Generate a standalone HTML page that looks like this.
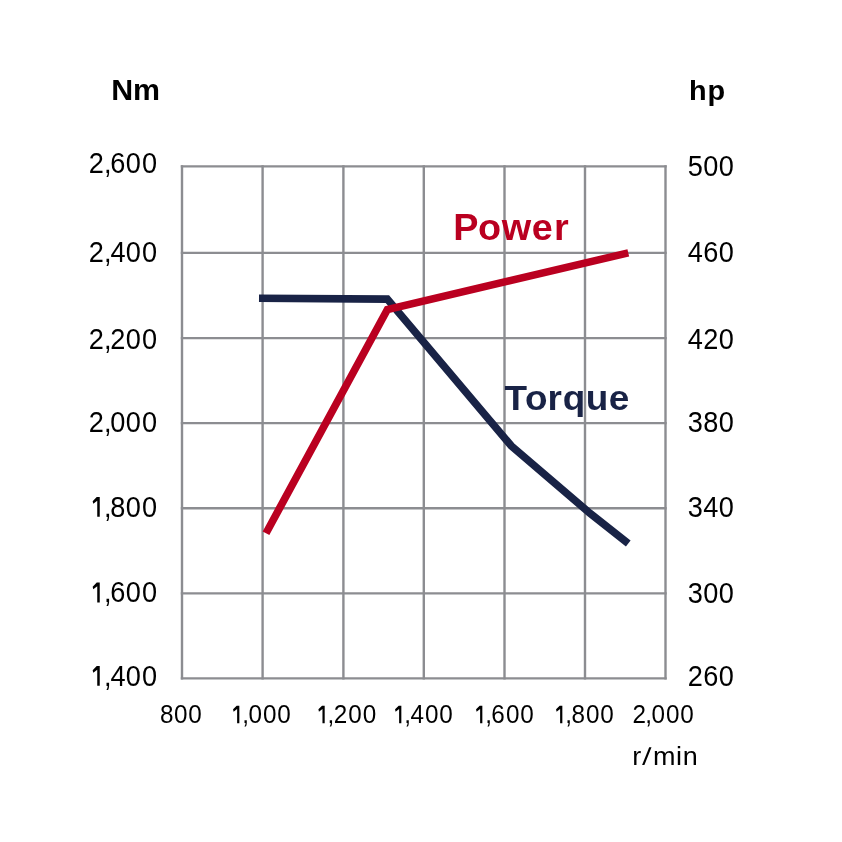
<!DOCTYPE html>
<html><head><meta charset="utf-8">
<style>
html,body{margin:0;padding:0;background:#fff;width:842px;height:842px;overflow:hidden}
svg{display:block;will-change:transform}
text{font-family:"Liberation Sans",sans-serif;font-kerning:none}
</style></head><body>
<svg width="842" height="842" viewBox="0 0 842 842">
<rect width="842" height="842" fill="#fff"/>
<g stroke="#8c8d91" stroke-width="2.4" fill="none">
<line x1="182.0" y1="165.20000000000002" x2="182.0" y2="679.6"/>
<line x1="262.6" y1="165.20000000000002" x2="262.6" y2="679.6"/>
<line x1="343.4" y1="165.20000000000002" x2="343.4" y2="679.6"/>
<line x1="423.8" y1="165.20000000000002" x2="423.8" y2="679.6"/>
<line x1="504.5" y1="165.20000000000002" x2="504.5" y2="679.6"/>
<line x1="585.0" y1="165.20000000000002" x2="585.0" y2="679.6"/>
<line x1="665.5" y1="165.20000000000002" x2="665.5" y2="679.6"/>
<line x1="180.8" y1="166.4" x2="666.7" y2="166.4"/>
<line x1="180.8" y1="252.9" x2="666.7" y2="252.9"/>
<line x1="180.8" y1="338.1" x2="666.7" y2="338.1"/>
<line x1="180.8" y1="423.1" x2="666.7" y2="423.1"/>
<line x1="180.8" y1="508.3" x2="666.7" y2="508.3"/>
<line x1="180.8" y1="593.4" x2="666.7" y2="593.4"/>
<line x1="180.8" y1="678.4" x2="666.7" y2="678.4"/>
</g>
<g fill="none" stroke-width="7.6" stroke-linejoin="miter" stroke-linecap="butt">
<polyline points="259.0,298.3 387.3,299.1 511.2,445.8 590,513.3 628.25,543.4" stroke="#192346"/>
<polyline points="266.0,533.2 387.4,309.5 628.3,252.9" stroke="#ba0020"/>
</g>
<text transform="translate(0 100.00) scale(1.0500 1)" x="105.86 126.57" y="0" font-size="28.90" font-weight="bold" fill="#000000">Nm</text>
<text transform="translate(0 99.90) scale(1.0200 1)" x="675.46 693.65" y="0" font-size="28.30" font-weight="bold" fill="#000000">hp</text>
<text transform="translate(0 173.29) scale(0.9300 1)" x="95.32 111.70 118.55 135.11 152.58" y="0" font-size="29.20" font-weight="normal" fill="#000000">2,600</text>
<text transform="translate(0 262.05) scale(0.9300 1)" x="95.32 111.70 118.75 135.11 152.58" y="0" font-size="29.20" font-weight="normal" fill="#000000">2,400</text>
<text transform="translate(0 348.80) scale(0.9300 1)" x="95.32 111.70 118.65 135.11 152.58" y="0" font-size="29.20" font-weight="normal" fill="#000000">2,200</text>
<text transform="translate(0 432.05) scale(0.9300 1)" x="95.32 111.70 118.65 135.11 152.58" y="0" font-size="29.20" font-weight="normal" fill="#000000">2,000</text>
<text transform="translate(0 516.85) scale(0.9300 1)" x="111.70 118.65 135.11 152.58" y="0" font-size="29.20" font-weight="normal" fill="#000000">,800</text><polygon points="99.74,497.00 99.74,516.85 97.24,516.85 97.24,500.65 93.26,503.80 92.66,501.15 96.74,497.00" fill="#000000"/>
<text transform="translate(0 602.40) scale(0.9300 1)" x="111.70 118.55 135.11 152.58" y="0" font-size="29.20" font-weight="normal" fill="#000000">,600</text><polygon points="99.74,582.55 99.74,602.40 97.24,602.40 97.24,586.20 93.26,589.35 92.66,586.70 96.74,582.55" fill="#000000"/>
<text transform="translate(0 685.85) scale(0.9300 1)" x="111.70 118.75 135.11 152.58" y="0" font-size="29.20" font-weight="normal" fill="#000000">,400</text><polygon points="99.74,666.00 99.74,685.85 97.24,685.85 97.24,669.65 93.26,672.80 92.66,670.15 96.74,666.00" fill="#000000"/>
<text transform="translate(0 175.80) scale(0.9300 1)" x="739.54 756.18 772.79" y="0" font-size="29.20" font-weight="normal" fill="#000000">500</text>
<text transform="translate(0 262.05) scale(0.9300 1)" x="739.61 756.08 772.79" y="0" font-size="29.20" font-weight="normal" fill="#000000">460</text>
<text transform="translate(0 348.80) scale(0.9300 1)" x="739.61 756.18 772.79" y="0" font-size="29.20" font-weight="normal" fill="#000000">420</text>
<text transform="translate(0 432.20) scale(0.9300 1)" x="739.60 756.18 772.79" y="0" font-size="29.20" font-weight="normal" fill="#000000">380</text>
<text transform="translate(0 517.10) scale(0.9300 1)" x="739.60 756.27 772.79" y="0" font-size="29.20" font-weight="normal" fill="#000000">340</text>
<text transform="translate(0 602.50) scale(0.9300 1)" x="739.60 756.18 772.79" y="0" font-size="29.20" font-weight="normal" fill="#000000">300</text>
<text transform="translate(0 686.05) scale(0.9300 1)" x="739.51 756.08 772.79" y="0" font-size="29.20" font-weight="normal" fill="#000000">260</text>
<text transform="translate(0 723.30) scale(0.9370 1)" x="170.71 185.59 200.96" y="0" font-size="25.90" font-weight="normal" fill="#000000">800</text>
<text transform="translate(0 723.30) scale(0.9370 1)" x="258.52 265.16 280.63 295.95" y="0" font-size="25.90" font-weight="normal" fill="#000000">,000</text><polygon points="239.34,705.69 239.34,723.30 237.12,723.30 237.12,708.93 233.59,711.72 233.06,709.37 236.68,705.69" fill="#000000"/>
<text transform="translate(0 723.30) scale(0.9370 1)" x="349.60 356.24 371.72 387.03" y="0" font-size="25.90" font-weight="normal" fill="#000000">,200</text><polygon points="324.69,705.69 324.69,723.30 322.47,723.30 322.47,708.93 318.94,711.72 318.41,709.37 322.03,705.69" fill="#000000"/>
<text transform="translate(0 723.30) scale(0.9370 1)" x="431.41 438.13 453.52 468.84" y="0" font-size="25.90" font-weight="normal" fill="#000000">,400</text><polygon points="401.34,705.69 401.34,723.30 399.12,723.30 399.12,708.93 395.59,711.72 395.06,709.37 398.68,705.69" fill="#000000"/>
<text transform="translate(0 723.30) scale(0.9370 1)" x="517.85 524.41 539.97 555.28" y="0" font-size="25.90" font-weight="normal" fill="#000000">,600</text><polygon points="482.34,705.69 482.34,723.30 480.12,723.30 480.12,708.93 476.59,711.72 476.06,709.37 479.68,705.69" fill="#000000"/>
<text transform="translate(0 723.30) scale(0.9370 1)" x="603.23 609.87 625.35 640.66" y="0" font-size="25.90" font-weight="normal" fill="#000000">,800</text><polygon points="562.34,705.69 562.34,723.30 560.12,723.30 560.12,708.93 556.59,711.72 556.06,709.37 559.68,705.69" fill="#000000"/>
<text transform="translate(0 723.30) scale(0.9370 1)" x="674.97 688.61 695.25 710.73 726.04" y="0" font-size="25.90" font-weight="normal" fill="#000000">2,000</text>
<text transform="translate(0 764.95) scale(1.0800 1)" x="585.43 604.64 625.83 632.14" y="0" font-size="25.00" font-weight="normal" fill="#000000">rmin</text>
<polygon points="642.1,765.0 644.4,765.0 651.5,747.2 649.2,747.2" fill="#000"/>
<text transform="translate(0 240.00) scale(1.0500 1)" x="431.79 455.29 477.87 506.33 527.56" y="0" font-size="36.00" font-weight="bold" fill="#ba0020">Power</text>
<text transform="translate(0 410.00) scale(1.0400 1)" x="485.16 504.73 526.42 541.16 563.27 585.33" y="0" font-size="35.50" font-weight="bold" fill="#192346">Torque</text>
</svg>
</body></html>
